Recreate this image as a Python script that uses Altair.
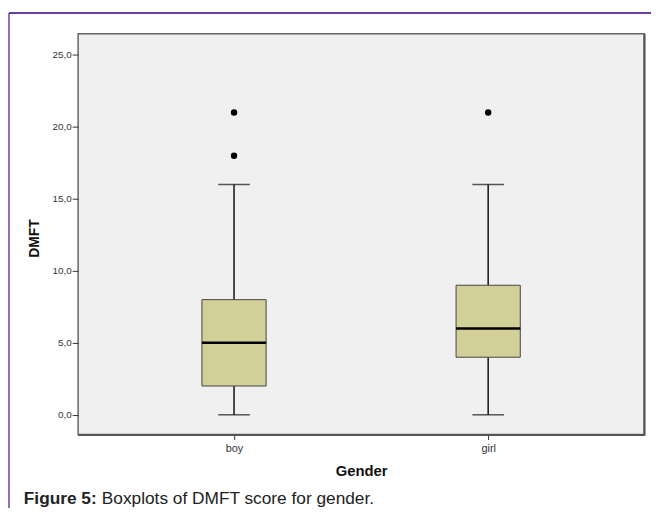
import altair as alt
import pandas as pd

# ---- data ----
genders = ["boy", "girl"]
whisker_low = [0, 0]
q1 = [2, 4]
median = [5, 6]
q3 = [8, 9]
whisker_high = [16, 16]

outlier_gender = ["boy", "boy", "girl"]
outlier_value = [18, 21, 21]

y_ticks = [0, 5, 10, 15, 20, 25]

box_df = pd.DataFrame({
    "gender": genders, "lo": whisker_low, "q1": q1,
    "med": median, "q3": q3, "hi": whisker_high,
})
out_df = pd.DataFrame({"gender": outlier_gender, "value": outlier_value})
one = pd.DataFrame({"k": [0]})

PLOT_W = 573
PLOT_H = 405.7

x_enc = alt.X(
    "gender:N",
    scale=alt.Scale(type="point", padding=0.6135, domain=genders),
    axis=alt.Axis(
        title="Gender", titleFontSize=15, titleFontWeight="bold",
        titleColor="#111", titleBaseline="alphabetic", titleY=41,
        labelFontSize=11, labelColor="#333", labelPadding=3,
        tickSize=5, tickColor="#333", labelAngle=0,
        domain=False, grid=False,
    ),
)
y_scale = alt.Scale(domain=[-1.37, 26.47], nice=False, zero=False)
y_axis = alt.Axis(
    values=y_ticks,
    labelExpr="replace(format(datum.value, '.1f'), '.', ',')",
    title="DMFT", titleFontSize=14, titleFontWeight="bold", titleColor="#111",
    titleX=-44, titleY=PLOT_H / 2 + 4, titleAngle=-90, titleBaseline="middle",
    labelFontSize=10, labelColor="#333", labelPadding=1,
    tickSize=6, tickColor="#333", domain=False, grid=False,
)

base = alt.Chart(box_df)

whisk_lo = base.mark_rule(color="#111", strokeWidth=1.5).encode(
    x=x_enc, y=alt.Y("lo:Q", scale=y_scale, axis=y_axis), y2="q1:Q")
whisk_hi = base.mark_rule(color="#111", strokeWidth=1.5).encode(
    x=x_enc, y=alt.Y("q3:Q", scale=y_scale, axis=y_axis), y2="hi:Q")
cap_lo = base.mark_tick(color="#111", thickness=1.5, size=32, orient="horizontal").encode(
    x=x_enc, y=alt.Y("lo:Q", scale=y_scale, axis=y_axis))
cap_hi = base.mark_tick(color="#111", thickness=1.5, size=32, orient="horizontal").encode(
    x=x_enc, y=alt.Y("hi:Q", scale=y_scale, axis=y_axis))
box = base.mark_bar(size=65, color="#d3cf98", stroke="#444", strokeWidth=1).encode(
    x=x_enc, y=alt.Y("q1:Q", scale=y_scale, axis=y_axis), y2="q3:Q")
med = base.mark_tick(color="#000", thickness=2.5, size=65, orient="horizontal", opacity=1).encode(
    x=x_enc, y=alt.Y("med:Q", scale=y_scale, axis=y_axis))
outl = alt.Chart(out_df).mark_point(filled=True, color="#000", size=42, opacity=1).encode(
    x=x_enc, y=alt.Y("value:Q", scale=y_scale, axis=y_axis))

# frame shadow (right / bottom edges)
frame_r = alt.Chart(one).mark_rule(color="#555", strokeWidth=2).encode(
    x=alt.value(PLOT_W + 0.5), y=alt.value(0), y2=alt.value(PLOT_H + 1))
frame_b = alt.Chart(one).mark_rule(color="#555", strokeWidth=2).encode(
    x=alt.value(0), x2=alt.value(PLOT_W + 1), y=alt.value(PLOT_H + 0.5))

# page decoration: purple border lines and caption
purple = "#6b3fa0"
top_line = alt.Chart(one).mark_rule(color=purple, strokeWidth=2).encode(
    x=alt.value(-70), x2=alt.value(PLOT_W + 7), y=alt.value(-21))
left_line = alt.Chart(one).mark_rule(color=purple, strokeWidth=1.5).encode(
    x=alt.value(-70), y=alt.value(-21), y2=alt.value(480))

cap_bold = alt.Chart(one).mark_text(
    text="Figure 5:", align="left", baseline="alphabetic", fontSize=17.5,
    fontWeight="bold", color="#222", font="Liberation Sans").encode(
    x=alt.value(-55), y=alt.value(476))
cap_norm = alt.Chart(one).mark_text(
    text="Boxplots of DMFT score for gender.", align="left", baseline="alphabetic",
    fontSize=17.5, color="#222", font="Liberation Sans").encode(
    x=alt.value(-55 + 79), y=alt.value(476))

chart = alt.layer(
    frame_r, frame_b, whisk_lo, whisk_hi, cap_lo, cap_hi, box, med, outl,
    top_line, left_line, cap_bold, cap_norm,
).properties(
    width=PLOT_W, height=PLOT_H,
    padding={"left": 71, "top": 23, "right": 7, "bottom": 74},
    autosize="none",
    background="white",
).configure_view(
    fill="#f0f0f0", stroke="#666", strokeWidth=1.5,
).configure_axis(
    labelFont="Liberation Sans", titleFont="Liberation Sans",
)

chart.save("out.html", embed_options={"renderer": "svg", "actions": False})
